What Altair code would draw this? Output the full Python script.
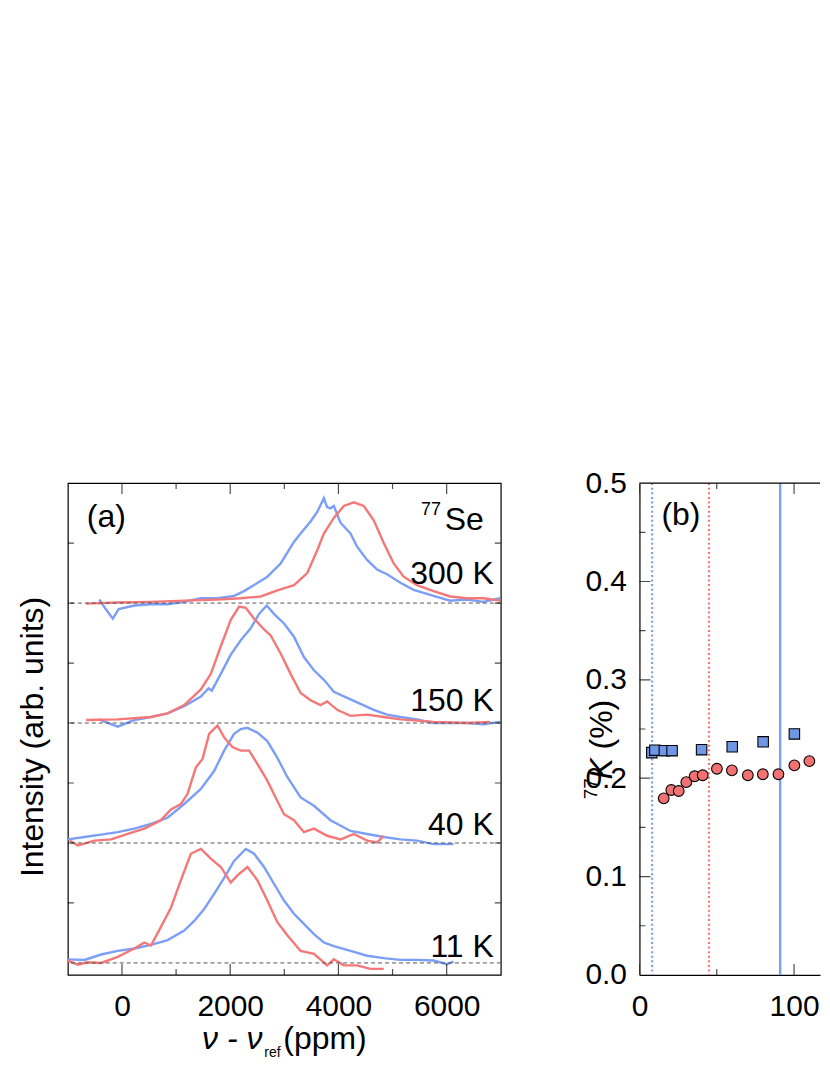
import altair as alt
import pandas as pd

FONT = "Liberation Sans"
BLUE = "#7B9EF7"
RED = "#F47878"
BLUE_FILL = "#6F97E6"
RED_FILL = "#F07272"

# ---------------- panel (a): 77Se NMR spectra ----------------
temps = ["11 K", "40 K", "150 K", "300 K"]
offsets = [0, 1, 2, 3]
label_x = [6870, 6870, 6870, 6870]
label_y = [0.05, 1.067, 2.10, 3.158]

# 300 K
b300_x = [-420, -300, -170, -60, 229, 540, 843, 1150, 1458, 1765, 2072, 2256, 2441, 2686, 2932, 3178, 3301, 3485, 3608, 3731, 3790, 3854, 3915, 4038, 4222, 4345, 4530, 4714, 4898, 5144, 5390, 5758, 6066, 6373, 6680, 6987]
b300_y = [0.03, -0.05, -0.13, -0.05, -0.02, -0.01, -0.01, 0.01, 0.04, 0.04, 0.06, 0.10, 0.15, 0.22, 0.33, 0.51, 0.58, 0.68, 0.76, 0.875, 0.80, 0.79, 0.81, 0.67, 0.58, 0.47, 0.36, 0.28, 0.24, 0.17, 0.11, 0.06, 0.02, 0.03, 0.01, 0.04]
r300_x = [-662, -78, 536, 1150, 1765, 2195, 2564, 2871, 3178, 3424, 3608, 3731, 3915, 4100, 4284, 4468, 4652, 4837, 5021, 5205, 5451, 5758, 6066, 6373, 6680, 6987]
r300_y = [-0.005, 0.005, 0.01, 0.02, 0.03, 0.04, 0.055, 0.105, 0.15, 0.25, 0.44, 0.58, 0.71, 0.81, 0.84, 0.81, 0.69, 0.50, 0.33, 0.22, 0.15, 0.10, 0.055, 0.04, 0.04, 0.02]

# 150 K
b150_x = [-426, -250, -78, 229, 536, 843, 1150, 1458, 1600, 1660, 1826, 2011, 2195, 2379, 2533, 2674, 2809, 2994, 3178, 3362, 3547, 3731, 3915, 4161, 4407, 4652, 4898, 5144, 5451, 5758, 6066, 6373, 6680, 6987]
b150_y = [0.03, 0.0, -0.03, 0.025, 0.05, 0.08, 0.14, 0.22, 0.29, 0.27, 0.41, 0.57, 0.69, 0.79, 0.91, 0.98, 0.91, 0.83, 0.72, 0.55, 0.44, 0.36, 0.26, 0.21, 0.16, 0.11, 0.07, 0.05, 0.03, 0.0, 0.0, 0.0, -0.01, 0.01]
r150_x = [-662, -78, 536, 843, 1150, 1458, 1642, 1826, 2011, 2164, 2287, 2441, 2625, 2748, 2932, 3116, 3301, 3485, 3669, 3792, 3977, 4222, 4530, 4837, 5144, 5758, 6373, 6803]
r150_y = [0.025, 0.03, 0.05, 0.08, 0.15, 0.28, 0.41, 0.64, 0.86, 0.97, 0.96, 0.87, 0.78, 0.73, 0.58, 0.41, 0.25, 0.19, 0.15, 0.18, 0.11, 0.06, 0.07, 0.05, 0.03, 0.01, 0.0, 0.01]

# 40 K
b40_x = [-1000, -693, -386, -78, 229, 536, 843, 1150, 1458, 1703, 1888, 2072, 2195, 2318, 2502, 2686, 2871, 3055, 3301, 3547, 3854, 4222, 4530, 4837, 5144, 5451, 5758, 6127]
b40_y = [0.03, 0.05, 0.07, 0.09, 0.12, 0.16, 0.21, 0.325, 0.45, 0.60, 0.77, 0.91, 0.95, 0.96, 0.92, 0.85, 0.71, 0.55, 0.38, 0.31, 0.19, 0.10, 0.075, 0.05, 0.03, 0.02, -0.01, -0.01]
r40_x = [-969, -816, -508, -201, 106, 413, 720, 905, 1089, 1212, 1365, 1488, 1611, 1765, 1888, 2041, 2195, 2349, 2502, 2686, 2871, 2994, 3178, 3362, 3547, 3792, 4038, 4284, 4530, 4714, 4837]
r40_y = [0.02, -0.02, 0.02, 0.03, 0.075, 0.12, 0.19, 0.28, 0.325, 0.41, 0.63, 0.70, 0.91, 0.98, 0.88, 0.80, 0.77, 0.77, 0.66, 0.52, 0.35, 0.24, 0.19, 0.09, 0.12, 0.06, 0.03, 0.075, 0.02, 0.005, 0.06]

# 11 K
b11_x = [-1000, -693, -386, -78, 229, 536, 843, 1150, 1335, 1519, 1703, 1888, 2072, 2287, 2441, 2625, 2809, 2994, 3178, 3362, 3547, 3731, 3915, 4222, 4530, 4837, 5144, 5451, 5758, 6004, 6127]
b11_y = [0.03, 0.025, 0.07, 0.10, 0.12, 0.15, 0.19, 0.27, 0.35, 0.45, 0.575, 0.71, 0.85, 0.95, 0.91, 0.80, 0.66, 0.52, 0.41, 0.325, 0.24, 0.17, 0.14, 0.10, 0.06, 0.04, 0.025, 0.025, 0.02, -0.01, 0.01]
r11_x = [-1000, -816, -631, -386, -78, 229, 413, 536, 720, 905, 1089, 1273, 1458, 1642, 1826, 2011, 2134, 2318, 2502, 2686, 2871, 3055, 3301, 3547, 3792, 3915, 4100, 4345, 4591, 4837]
r11_y = [0.02, -0.015, 0.005, 0.0, 0.05, 0.12, 0.17, 0.145, 0.30, 0.46, 0.69, 0.91, 0.95, 0.87, 0.80, 0.67, 0.73, 0.80, 0.69, 0.52, 0.34, 0.23, 0.10, 0.075, -0.02, 0.03, -0.02, -0.02, -0.05, -0.05]

spectra = [
    ("11 K", 0, "blue", b11_x, b11_y), ("11 K", 0, "red", r11_x, r11_y),
    ("40 K", 1, "blue", b40_x, b40_y), ("40 K", 1, "red", r40_x, r40_y),
    ("150 K", 2, "blue", b150_x, b150_y), ("150 K", 2, "red", r150_x, r150_y),
    ("300 K", 3, "blue", b300_x, b300_y), ("300 K", 3, "red", r300_x, r300_y),
]
rows = []
for temp, off, col, xs, ys in spectra:
    for i, (xv, yv) in enumerate(zip(xs, ys)):
        rows.append({"x": xv, "y": yv + off, "series": col, "key": temp + col, "idx": i})
spec_df = pd.DataFrame(rows)

xa_ticks_major = [0, 2000, 4000, 6000]
xa_ticks_minor = [1000, 3000, 5000]
ya_ticks = [0.5, 1, 1.5, 2, 2.5, 3, 3.5]

XA_MIN, XA_MAX = -1000, 7000
YA_MIN, YA_MAX = -0.1, 4.0
W_A, H = 434, 493
TOP_SPACE = 473.5
LABEL_SIZE = 30

xs_a = alt.Scale(domain=[XA_MIN, XA_MAX], nice=False, zero=False)
ys_a = alt.Scale(domain=[YA_MIN, YA_MAX], nice=False, zero=False)

xa = alt.X("x:Q", scale=xs_a, axis=alt.Axis(values=xa_ticks_major, format="d", ticks=False, tickSize=0,
                                            domain=False, grid=False, labelFontSize=LABEL_SIZE, labelFont=FONT,
                                            labelColor="black", labelPadding=17, title=None))
ya = alt.Y("y:Q", scale=ys_a, axis=alt.Axis(labels=False, ticks=False, tickSize=0, domain=False, grid=False,
                                            title="Intensity (arb. units)", titleFont=FONT, titleFontSize=32,
                                            titleFontWeight="normal", titleColor="black", titleX=-25, titleY=254,
                                            titleAngle=270, titleBaseline="alphabetic", titleAlign="center"))

blue_lines = alt.Chart(spec_df[spec_df.series == "blue"]).mark_line(strokeWidth=2.4, color=BLUE, clip=True).encode(
    x=xa, y=ya, detail="key:N", order="idx:Q")
red_lines = alt.Chart(spec_df[spec_df.series == "red"]).mark_line(strokeWidth=2.4, color=RED, clip=True).encode(
    x=alt.X("x:Q"), y=alt.Y("y:Q"), detail="key:N", order="idx:Q")

base_df = pd.DataFrame({"y": offsets})
baselines = alt.Chart(base_df).mark_rule(strokeDash=[4, 3], color="#555555", strokeWidth=1).encode(y=alt.Y("y:Q"))

lab_df = pd.DataFrame({"x": label_x, "y": label_y, "t": temps})
temp_labels = alt.Chart(lab_df).mark_text(font=FONT, fontSize=32, align="right", baseline="alphabetic",
                                          color="black").encode(x=alt.X("x:Q"), y=alt.Y("y:Q"), text="t:N")


def ticks_x(vals, ypos, length):
    return alt.Chart(pd.DataFrame({"x": vals})).mark_tick(orient="vertical", size=2 * length, thickness=1.2,
                                                          color="black", clip=True).encode(
        x=alt.X("x:Q"), y=alt.datum(ypos))


def ticks_y(vals, xpos, length):
    return alt.Chart(pd.DataFrame({"y": vals})).mark_tick(orient="horizontal", size=2 * length, thickness=1.2,
                                                          color="black", clip=True).encode(
        y=alt.Y("y:Q"), x=alt.datum(xpos))


def txt(text, x, y, size, align="left", style="normal", angle=0):
    kw = dict(text=text, font=FONT, fontSize=size, align=align, baseline="alphabetic", color="black",
              fontStyle=style)
    if angle:
        kw["angle"] = angle
    return alt.Chart(pd.DataFrame({"a": [0]})).mark_text(**kw).encode(x=alt.value(x), y=alt.value(y))


def top_spacer():
    # invisible rule reserving the blank band above both panels
    return alt.Chart(pd.DataFrame({"a": [0]})).mark_rule(opacity=0, strokeWidth=1).encode(
        x=alt.value(1), y=alt.value(-TOP_SPACE), y2=alt.value(0))


ticks_a = [ticks_x(xa_ticks_major, YA_MIN, 11), ticks_x(xa_ticks_minor, YA_MIN, 6),
           ticks_x(xa_ticks_major, YA_MAX, 11), ticks_x(xa_ticks_minor, YA_MAX, 6),
           ticks_y(ya_ticks, XA_MIN, 6), ticks_y(ya_ticks, XA_MAX, 6)]

annot_a = [
    txt("(a)", 19, 44, 32),
    txt("Se", 417, 47, 32, align="right"),
    txt("77", 374, 32, 18, align="right"),
    txt("\u03bd - \u03bd", 195, 567, 32, align="right", style="italic"),
    txt("ref", 197, 575, 14),
    txt("(ppm)", 216, 567, 32),
]

panel_a = alt.layer(blue_lines, red_lines, baselines, temp_labels, *ticks_a, *annot_a, top_spacer()).properties(
    width=W_A, height=H)

# ---------------- panel (b): Knight shift vs temperature ----------------
T_sq = [8.0, 10.0, 16.1, 21.1, 40.2, 60.0, 80.0, 100.2]
K_sq = [0.226, 0.2285, 0.228, 0.228, 0.229, 0.232, 0.237, 0.245]
T_ci = [15.7, 20.6, 25.4, 30.3, 35.7, 40.9, 50.1, 59.8, 70.1, 79.8, 89.9, 100.2, 109.9]
K_ci = [0.1795, 0.188, 0.187, 0.196, 0.202, 0.203, 0.2096, 0.208, 0.203, 0.204, 0.204, 0.213, 0.2174]
T_dot_blue = [8.2]
T_dot_red = [45.0]
T_solid_blue = [91.0]

W_B = 181
XB_MIN, XB_MAX = 0, W_B / 1.55
YB_MIN, YB_MAX = 0.0, 0.5
xb_major = [0, 100]
xb_minor = [50]
yb_labels = [0, 0.1, 0.2, 0.3, 0.4, 0.5]
yb_major = [0.1, 0.2, 0.3, 0.4]
yb_minor = [0.05, 0.15, 0.25, 0.35, 0.45]

xs_b = alt.Scale(domain=[XB_MIN, XB_MAX], nice=False, zero=False)
ys_b = alt.Scale(domain=[YB_MIN, YB_MAX], nice=False, zero=False)
xb = alt.X("x:Q", scale=xs_b, axis=alt.Axis(values=xb_major, format="d", ticks=False, tickSize=0, domain=True,
                                            domainColor="black", domainWidth=1.2, grid=False,
                                            labelFontSize=LABEL_SIZE, labelFont=FONT, labelColor="black",
                                            labelPadding=17, title=None, labelFlush=False))
yb = alt.Y("y:Q", scale=ys_b, axis=alt.Axis(values=yb_labels, format=".1f", ticks=False,
                                            tickSize=0, domain=True, domainColor="black", domainWidth=1.2,
                                            grid=False, labelFontSize=LABEL_SIZE, labelFont=FONT,
                                            labelColor="black", labelPadding=13, title=None, labelFlush=False))

v1 = alt.Chart(pd.DataFrame({"x": T_dot_blue})).mark_rule(color=BLUE, strokeWidth=2.2, strokeDash=[2, 2.6]).encode(x=xb)
v2 = alt.Chart(pd.DataFrame({"x": T_dot_red})).mark_rule(color=RED, strokeWidth=2.2, strokeDash=[2, 2.6]).encode(x=alt.X("x:Q"))
v3 = alt.Chart(pd.DataFrame({"x": T_solid_blue})).mark_rule(color=BLUE, strokeWidth=2.4).encode(x=alt.X("x:Q"))

sq = alt.Chart(pd.DataFrame({"x": T_sq, "y": K_sq})).mark_square(
    size=110, fill=BLUE_FILL, stroke="black", strokeWidth=1.1, opacity=1, clip=True).encode(
    x=alt.X("x:Q"), y=yb)
ci = alt.Chart(pd.DataFrame({"x": T_ci, "y": K_ci})).mark_circle(
    size=115, fill=RED_FILL, stroke="black", strokeWidth=1.1, opacity=1, clip=True).encode(
    x=alt.X("x:Q"), y=alt.Y("y:Q"))

ticks_b = [ticks_x(xb_major, YB_MIN, 11), ticks_x(xb_minor, YB_MIN, 6),
           ticks_x(xb_major, YB_MAX, 11), ticks_x(xb_minor, YB_MAX, 6),
           ticks_y(yb_major, XB_MIN, 11), ticks_y(yb_minor, XB_MIN, 6)]

top_border = alt.Chart(pd.DataFrame({"a": [0]})).mark_rule(color="black", strokeWidth=1.2).encode(
    x=alt.value(0), x2=alt.value(W_B), y=alt.value(0))

annot_b = [
    txt("(b)", 22, 42, 32),
    txt("77", -43, 317, 19, angle=270),
    txt("K", -28, 297, 32, style="italic", angle=270),
    txt("(%)", -28, 267, 32, angle=270),
]

panel_b = alt.layer(v1, v2, v3, sq, ci, *ticks_b, top_border, *annot_b, top_spacer()).properties(
    width=W_B, height=H, view=alt.ViewBackground(stroke="transparent"))

chart = alt.hconcat(panel_a, panel_b, spacing=78).properties(
    padding={"left": 8, "top": 0, "right": 0, "bottom": 0}
).configure_view(stroke="black", strokeWidth=1.2)

chart.save("out.html", embed_options={"renderer": "svg", "actions": False})
